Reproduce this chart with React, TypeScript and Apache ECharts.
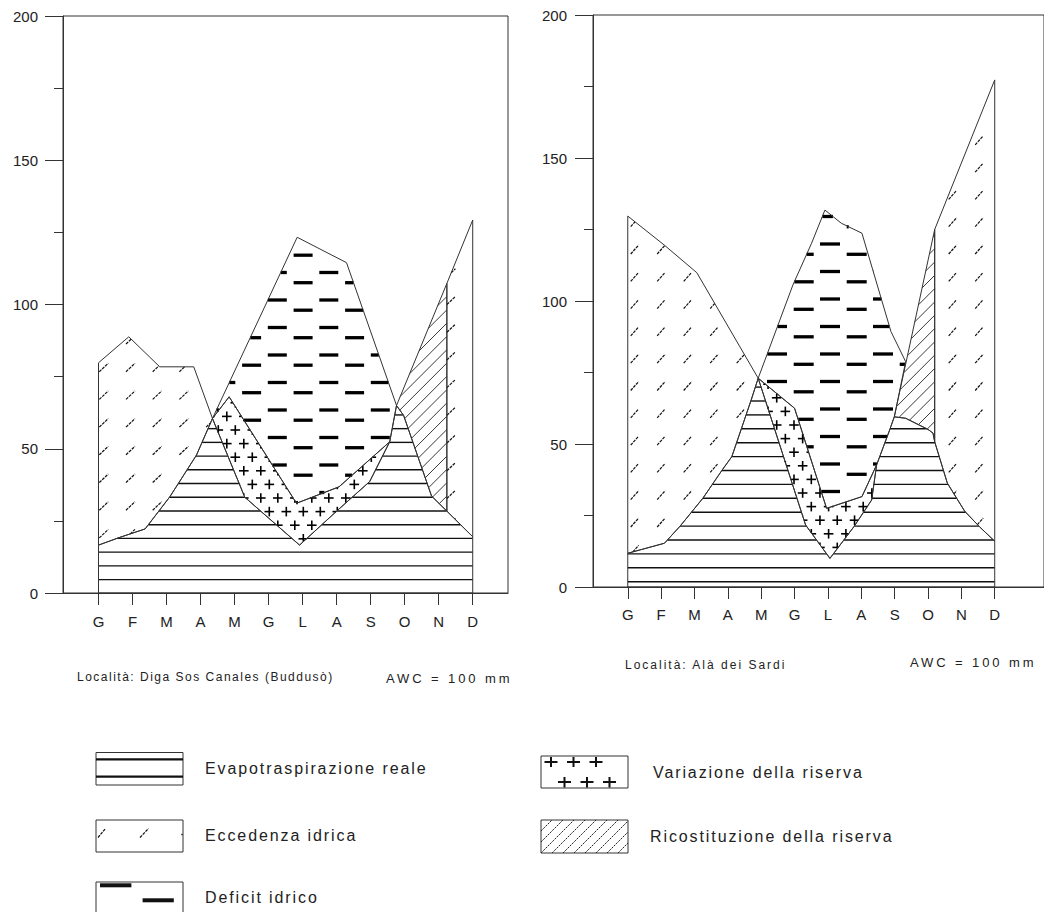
import React, { useEffect, useRef } from 'react';
import * as echarts from 'echarts';

const FONT = '"Liberation Sans", Arial, Helvetica, sans-serif';
const INK = '#222';
const LINE = '#333';

// ---------- axis data ----------
const months = ['G', 'F', 'M', 'A', 'M', 'G', 'L', 'A', 'S', 'O', 'N', 'D'];
const monthPositions = [0, 1, 2, 3, 4, 5, 6, 7, 8, 9, 10, 11];
const valueMin = 0;
const valueMax = 200;
const valueInterval = 50;

// ---------- Left: Diga Sos Canales (Buddusò) — polygons as [month position, mm] ----------
const leftEvapotraspirazione = [[0, 0], [0, 16.6], [0.63, 19.3], [1.37, 22.2], [2.1, 33.4], [2.88, 47.8], [3.35, 60.5], [4.3, 33.2], [5.91, 16.6], [7.04, 28.8], [7.97, 38.6], [8.56, 52.4], [8.76, 65], [8.97, 61.5], [9.79, 33.6], [11, 19.5], [11, 0]];
const leftEccedenzaInverno = [[0, 79.8], [0.89, 88.8], [1.8, 78.4], [2.8, 78.4], [3.35, 60.5], [2.88, 47.8], [2.1, 33.4], [1.37, 22.2], [0.63, 19.3], [0, 16.6]];
const leftDeficit = [[3.35, 60.5], [5.84, 123.3], [7.29, 114.5], [8.76, 65], [8.56, 52.4], [7.07, 36.8], [5.82, 31.1], [3.84, 68.0]];
const leftVariazione = [[3.35, 60.5], [3.84, 68.0], [5.82, 31.1], [7.07, 36.8], [8.56, 52.4], [7.97, 38.6], [7.04, 28.8], [5.91, 16.6], [4.3, 33.2]];
const leftRicostituzione = [[8.76, 65], [10.24, 107.3], [10.24, 28.4], [9.79, 33.6], [8.97, 61.5]];
const leftEccedenzaAutunno = [[10.24, 107.3], [11, 129.3], [11, 19.5], [10.24, 28.4]];

// ---------- Right: Alà dei Sardi ----------
const rightEvapotraspirazione = [[0, 0], [0, 11.8], [1.1, 15.3], [1.57, 21.3], [2.25, 31], [2.83, 40.9], [3.12, 45.6], [3.41, 55.5], [3.7, 65.4], [3.91, 73], [5.33, 21.7], [6.06, 10.0], [6.78, 21.1], [7.31, 30.4], [7.46, 42.7], [7.85, 54.9], [7.99, 59.5], [8.33, 59], [9.0, 55.1], [9.15, 53.8], [9.2, 50.8], [9.58, 36.3], [10.1, 26.5], [10.54, 21.1], [11, 16], [11, 0]];
const rightEccedenzaInverno = [[0, 129.7], [1.09, 119.6], [2.07, 109.9], [3.91, 73], [3.7, 65.4], [3.41, 55.5], [3.12, 45.6], [2.83, 40.9], [2.25, 31], [1.57, 21.3], [1.1, 15.3], [0, 11.8]];
const rightDeficit = [[3.91, 73], [4.95, 105.6], [5.51, 120.2], [5.91, 131.8], [6.4, 127.2], [7.02, 123.7], [7.89, 89.3], [8.33, 78.8], [7.99, 59.5], [7.85, 54.9], [7.46, 42.7], [7.02, 31.6], [5.96, 27.5], [5.0, 62.5]];
const rightVariazione = [[3.91, 73], [5.0, 62.5], [5.96, 27.5], [7.02, 31.6], [7.46, 42.7], [7.31, 30.4], [6.78, 21.1], [6.06, 10.0], [5.33, 21.7]];
const rightRicostituzione = [[7.99, 59.5], [9.2, 125], [9.2, 50.8], [9.15, 53.8], [9.0, 55.1], [8.33, 59]];
const rightEccedenzaAutunno = [[9.2, 125], [11, 177.3], [11, 16], [10.54, 21.1], [10.1, 26.5], [9.58, 36.3], [9.2, 50.8]];

// ---------- texts ----------
const leftLocation = 'Località: Diga Sos Canales (Buddusò)';
const rightLocation = 'Località: Alà dei Sardi';
const awcText = 'AWC = 100 mm';
const legendLabels = ['Evapotraspirazione reale', 'Eccedenza idrica', 'Deficit idrico', 'Variazione della riserva', 'Ricostituzione della riserva'];

// ---------- pattern styles (pixel space) ----------
const leftStyles: Record<string, any> = {
  evapo: { kind: 'hlines', base: 593.3, step: 13.72, width: 1.4 },
  surplusWinter: { kind: 'slashes', ax: 99.3, ay: 371.7, px: 26.7, py: 27.7, vx: 9, vy: -8.5 },
  deficit: { kind: 'dashes', ax: 319.3, ay: 272.5, px: 51.5, py: 27.5, ox: 25.8, oy: 10.2, len: 19, width: 3.3 },
  variation: { kind: 'crosses', ax: 218.3, ay: 430, px: 17, py: 13.6, half: 4.8, width: 1.6 },
  recharge: { kind: 'hatch', c0: 756.7, step: 13.3, width: 0.9 },
  surplusAutumn: { kind: 'slashes', ax: 99.3, ay: 305, px: 26.7, py: 27.7, vx: 9, vy: -8.5 },
};
const rightStyles: Record<string, any> = {
  evapo: { kind: 'hlines', base: 581.7, step: 13.9, width: 1.4 },
  surplusWinter: { kind: 'slashes', ax: 630.7, ay: 254, px: 26.5, py: 27.3, vx: 8, vy: -9 },
  deficit: { kind: 'dashes', ax: 820, ay: 244, px: 53, py: 27.5, ox: 26.7, oy: 10.3, len: 20, width: 3.3 },
  variation: { kind: 'crosses', ax: 776.7, ay: 425, px: 17.3, py: 13.6, half: 4.8, width: 1.6 },
  recharge: { kind: 'hatch', c0: 1210, step: 13.3, width: 0.9 },
  surplusAutumn: { kind: 'slashes', ax: 630.7, ay: 254, px: 26.5, py: 27.3, vx: 8, vy: -9 },
};

const leftRegions = [
  { points: leftEvapotraspirazione, style: 'evapo' },
  { points: leftEccedenzaInverno, style: 'surplusWinter' },
  { points: leftDeficit, style: 'deficit' },
  { points: leftVariazione, style: 'variation' },
  { points: leftRicostituzione, style: 'recharge' },
  { points: leftEccedenzaAutunno, style: 'surplusAutumn' },
];
const rightRegions = [
  { points: rightEvapotraspirazione, style: 'evapo' },
  { points: rightEccedenzaInverno, style: 'surplusWinter' },
  { points: rightDeficit, style: 'deficit' },
  { points: rightVariazione, style: 'variation' },
  { points: rightRicostituzione, style: 'recharge' },
  { points: rightEccedenzaAutunno, style: 'surplusAutumn' },
];

// ---------- geometry helpers ----------
function insidePoly(x: number, y: number, pts: number[][]) {
  let c = false;
  for (let i = 0, j = pts.length - 1; i < pts.length; j = i++) {
    const xi = pts[i][0], yi = pts[i][1], xj = pts[j][0], yj = pts[j][1];
    if ((yi > y) !== (yj > y) && x < ((xj - xi) * (y - yi)) / (yj - yi) + xi) c = !c;
  }
  return c;
}

function clipSegment(x1: number, y1: number, x2: number, y2: number, pts: number[][]) {
  const dx = x2 - x1, dy = y2 - y1;
  const ts = [0, 1];
  for (let i = 0; i < pts.length; i++) {
    const a = pts[i], b = pts[(i + 1) % pts.length];
    const ex = b[0] - a[0], ey = b[1] - a[1];
    const den = dx * ey - dy * ex;
    if (Math.abs(den) < 1e-9) continue;
    const wx = a[0] - x1, wy = a[1] - y1;
    const t = (wx * ey - wy * ex) / den;
    const u = (wx * dy - wy * dx) / den;
    if (t > 0 && t < 1 && u >= -1e-9 && u <= 1 + 1e-9) ts.push(t);
  }
  ts.sort((p, q) => p - q);
  const out: number[][] = [];
  for (let k = 0; k < ts.length - 1; k++) {
    const t0 = ts[k], t1 = ts[k + 1];
    if (t1 - t0 < 1e-6) continue;
    const tm = (t0 + t1) / 2;
    if (insidePoly(x1 + dx * tm, y1 + dy * tm, pts)) {
      out.push([x1 + dx * t0, y1 + dy * t0, x1 + dx * t1, y1 + dy * t1]);
    }
  }
  return out;
}

function patternLayers(cfg: any, pts: number[][]) {
  const xs = pts.map((p) => p[0]);
  const ys = pts.map((p) => p[1]);
  const minX = Math.min(...xs), maxX = Math.max(...xs), minY = Math.min(...ys), maxY = Math.max(...ys);
  const segs: number[][] = [];
  if (cfg.kind === 'hlines') {
    const k0 = Math.floor((minY - cfg.base) / cfg.step) - 1;
    const k1 = Math.ceil((maxY - cfg.base) / cfg.step) + 1;
    for (let k = k0; k <= k1; k++) {
      const y = cfg.base + k * cfg.step;
      if (y <= minY + 0.3 || y >= maxY - 0.6) continue;
      segs.push(...clipSegment(minX - 2, y, maxX + 2, y, pts));
    }
    return [{ segs, width: cfg.width, color: '#111', dash: null }];
  }
  if (cfg.kind === 'dashes') {
    const r0 = Math.floor((minY - cfg.ay) / cfg.py) - 1;
    const r1 = Math.ceil((maxY - cfg.ay) / cfg.py) + 1;
    for (let r = r0; r <= r1; r++) {
      for (const sub of [0, 1]) {
        const y = cfg.ay + r * cfg.py + (sub ? cfg.oy : 0);
        if (y < minY || y > maxY) continue;
        const xb = cfg.ax + (sub ? cfg.ox : 0);
        const k0 = Math.floor((minX - cfg.len - xb) / cfg.px) - 1;
        const k1 = Math.ceil((maxX - xb) / cfg.px) + 1;
        for (let k = k0; k <= k1; k++) {
          const x = xb + k * cfg.px;
          segs.push(...clipSegment(x, y, x + cfg.len, y, pts));
        }
      }
    }
    return [{ segs, width: cfg.width, color: '#000', dash: null }];
  }
  if (cfg.kind === 'slashes') {
    const i0 = Math.floor((minX - 20 - cfg.ax) / cfg.px) - 1;
    const i1 = Math.ceil((maxX - cfg.ax) / cfg.px) + 1;
    const j0 = Math.floor((minY - cfg.ay) / cfg.py) - 1;
    const j1 = Math.ceil((maxY + 20 - cfg.ay) / cfg.py) + 1;
    for (let i = i0; i <= i1; i++) {
      for (let j = j0; j <= j1; j++) {
        const x = cfg.ax + i * cfg.px, y = cfg.ay + j * cfg.py;
        segs.push(...clipSegment(x, y, x + cfg.vx, y + cfg.vy, pts));
      }
    }
    return [{ segs, width: 1.2, color: '#111', dash: [3, 1] }];
  }
  if (cfg.kind === 'crosses') {
    const r0 = Math.floor((minY - cfg.ay) / cfg.py) - 1;
    const r1 = Math.ceil((maxY - cfg.ay) / cfg.py) + 1;
    for (let r = r0; r <= r1; r++) {
      const odd = ((r % 2) + 2) % 2;
      const cy = cfg.ay + r * cfg.py;
      const xb = cfg.ax + (odd ? cfg.px / 2 : 0);
      const k0 = Math.floor((minX - xb) / cfg.px) - 1;
      const k1 = Math.ceil((maxX - xb) / cfg.px) + 1;
      for (let k = k0; k <= k1; k++) {
        const cx = xb + k * cfg.px;
        const h = cfg.half;
        segs.push(...clipSegment(cx - h, cy, cx + h, cy, pts));
        segs.push(...clipSegment(cx, cy - h, cx, cy + h, pts));
      }
    }
    return [{ segs, width: cfg.width, color: '#000', dash: null }];
  }
  if (cfg.kind === 'hatch') {
    const k0 = Math.floor((minX + minY - cfg.c0) / cfg.step) - 1;
    const k1 = Math.ceil((maxX + maxY - cfg.c0) / cfg.step) + 1;
    for (let k = k0; k <= k1; k++) {
      const c = cfg.c0 + k * cfg.step;
      const xa = minX - 2, xz = maxX + 2;
      segs.push(...clipSegment(xa, c - xa, xz, c - xz, pts));
    }
    return [{ segs, width: cfg.width, color: '#222', dash: cfg.dash || null }];
  }
  return [];
}

function segElements(layers: any[]) {
  const out: any[] = [];
  for (const layer of layers) {
    for (const s of layer.segs) {
      out.push({
        type: 'line',
        silent: true,
        shape: { x1: s[0], y1: s[1], x2: s[2], y2: s[3] },
        style: { stroke: layer.color, lineWidth: layer.width, lineDash: layer.dash, lineCap: 'butt' },
      });
    }
  }
  return out;
}

function makeRenderItem(regions: any[], styles: Record<string, any>) {
  return function (params: any, api: any) {
    const region = regions[params.dataIndex];
    const pts = region.points.map((p: number[]) => api.coord(p));
    const children = segElements(patternLayers(styles[region.style], pts));
    children.push({
      type: 'polygon',
      silent: true,
      shape: { points: pts },
      style: { fill: 'none', stroke: LINE, lineWidth: 1 },
    });
    return { type: 'group', children };
  };
}

// ---------- legend & annotations (graphic) ----------
function textEl(text: string, x: number, y: number, size: number) {
  return {
    type: 'text',
    silent: true,
    x,
    y,
    style: {
      text,
      fill: INK,
      fontSize: size,
      fontFamily: FONT,
      align: 'left',
      textAlign: 'left',
      verticalAlign: 'middle',
      textVerticalAlign: 'middle',
    },
  };
}
function boxEl(x: number, y: number, w: number, h: number) {
  return { type: 'rect', silent: true, shape: { x, y, width: w, height: h }, style: { fill: 'none', stroke: LINE, lineWidth: 1 } };
}
function lineEl(x1: number, y1: number, x2: number, y2: number, w: number, dash?: number[]) {
  return { type: 'line', silent: true, shape: { x1, y1, x2, y2 }, style: { stroke: '#111', lineWidth: w, lineDash: dash || null } };
}

function buildGraphics() {
  const els: any[] = [];
  // legend 1: evapotraspirazione reale
  els.push(boxEl(96, 752.5, 87, 32.5));
  els.push(lineEl(96, 759.3, 183, 759.3, 2.3));
  els.push(lineEl(96, 776.7, 183, 776.7, 2.3));
  els.push(textEl(legendLabels[0], 205, 768, 16));
  // legend 2: eccedenza idrica
  els.push(boxEl(96, 820, 87, 32));
  els.push(lineEl(98, 837.5, 105.5, 828.5, 1.2, [3, 1]));
  els.push(lineEl(140, 837.5, 148.5, 828.5, 1.2, [3, 1]));
  els.push(lineEl(181.5, 835, 182.5, 834, 1.2));
  els.push(textEl(legendLabels[1], 205, 835, 16));
  // legend 3: deficit idrico
  els.push(boxEl(96, 882, 87, 40));
  els.push(lineEl(100, 885.3, 131.4, 885.3, 4));
  els.push(lineEl(142.6, 900.3, 173.8, 900.3, 4));
  els.push(textEl(legendLabels[2], 205, 897, 16));
  // legend 4: variazione della riserva
  els.push(boxEl(541, 756, 87, 32));
  const crossTop = [551, 573.5, 596];
  const crossBottom = [564.5, 587, 609.5];
  for (const cx of crossTop) {
    els.push(lineEl(cx - 6.5, 762, cx + 6.5, 762, 2));
    els.push(lineEl(cx, 757, cx, 767, 2));
  }
  for (const cx of crossBottom) {
    els.push(lineEl(cx - 6.5, 782, cx + 6.5, 782, 2));
    els.push(lineEl(cx, 777, cx, 787.5, 2));
  }
  els.push(textEl(legendLabels[3], 653, 772, 16));
  // legend 5: ricostituzione della riserva
  els.push(boxEl(541, 820, 87, 33));
  const rect = [[541, 820], [628, 820], [628, 853], [541, 853]];
  els.push(...segElements(patternLayers({ kind: 'hatch', c0: 1361, step: 11, width: 1, dash: [2.2, 1] }, rect)));
  els.push(textEl(legendLabels[4], 650, 836, 16));
  // station annotations
  els.push(textEl(leftLocation, 77, 677, 12));
  els.push(textEl(awcText, 386, 678, 13));
  els.push(textEl(rightLocation, 625, 665, 12));
  els.push(textEl(awcText, 910, 662, 13));
  return els;
}

const letterSpacing: Record<string, number> = {
  [legendLabels[0]]: 1.9,
  [legendLabels[1]]: 1.9,
  [legendLabels[2]]: 1.9,
  [legendLabels[3]]: 1.9,
  [legendLabels[4]]: 1.9,
  [leftLocation]: 1.5,
  [rightLocation]: 2,
  [awcText]: 2.9,
};

function xAxisFor(gridIndex: number, min: number, max: number, margin: number) {
  return {
    gridIndex,
    type: 'value',
    min,
    max,
    axisLine: { show: true, onZero: false, lineStyle: { color: LINE, width: 1 } },
    axisTick: { show: true, customValues: monthPositions, length: 12, lineStyle: { color: LINE, width: 1 } },
    axisLabel: {
      show: true,
      customValues: monthPositions,
      formatter: (v: number) => months[Math.round(v)] ?? '',
      margin,
      color: INK,
      fontSize: 15,
      fontFamily: FONT,
    },
    splitLine: { show: false },
  };
}

function yAxisFor(gridIndex: number, margin: number) {
  return {
    gridIndex,
    type: 'value',
    min: valueMin,
    max: valueMax,
    interval: valueInterval,
    position: 'left',
    axisLine: { show: true, onZero: false, lineStyle: { color: LINE, width: 1 } },
    axisTick: { show: true, length: 18, lineStyle: { color: LINE, width: 1 } },
    minorTick: { show: true, splitNumber: 2, length: 9, lineStyle: { color: LINE, width: 1 } },
    axisLabel: { margin, color: INK, fontSize: 15, fontFamily: FONT },
    splitLine: { show: false },
    minorSplitLine: { show: false },
  };
}

export default function App() {
  const ref = useRef<HTMLDivElement | null>(null);
  useEffect(() => {
    const el = ref.current;
    if (!el) return;
    const chart = echarts.init(el, null, { renderer: 'svg' });
    const option: any = {
      animation: false,
      grid: [
        { left: 63, top: 16, width: 445, height: 577, show: true, borderColor: LINE, borderWidth: 1, backgroundColor: 'transparent' },
        { left: 593, top: 15, width: 467, height: 572, show: true, borderColor: LINE, borderWidth: 1, backgroundColor: 'transparent' },
      ],
      xAxis: [xAxisFor(0, -1.0435, 12.037, 21), xAxisFor(1, -1.042, 12.477, 20)],
      yAxis: [yAxisFor(0, 25), yAxisFor(1, 26)],
      series: [
        {
          type: 'custom',
          xAxisIndex: 0,
          yAxisIndex: 0,
          silent: true,
          clip: false,
          renderItem: makeRenderItem(leftRegions, leftStyles),
          data: leftRegions.map((_, i) => [i, 0]),
        },
        {
          type: 'custom',
          xAxisIndex: 1,
          yAxisIndex: 1,
          silent: true,
          clip: false,
          renderItem: makeRenderItem(rightRegions, rightStyles),
          data: rightRegions.map((_, i) => [i, 0]),
        },
      ],
      graphic: { elements: buildGraphics() },
    };
    chart.setOption(option);
    const applySpacing = () => {
      el.querySelectorAll('text').forEach((t) => {
        const s = letterSpacing[t.textContent || ''];
        if (s) t.setAttribute('letter-spacing', String(s));
      });
    };
    applySpacing();
    chart.on('finished', applySpacing);
    const t1 = setTimeout(applySpacing, 50);
    const t2 = setTimeout(applySpacing, 300);
    return () => {
      clearTimeout(t1);
      clearTimeout(t2);
      chart.dispose();
    };
  }, []);
  return <div ref={ref} style={{ position: 'absolute', left: 0, top: 0, width: 1044, height: 912 }} />;
}
